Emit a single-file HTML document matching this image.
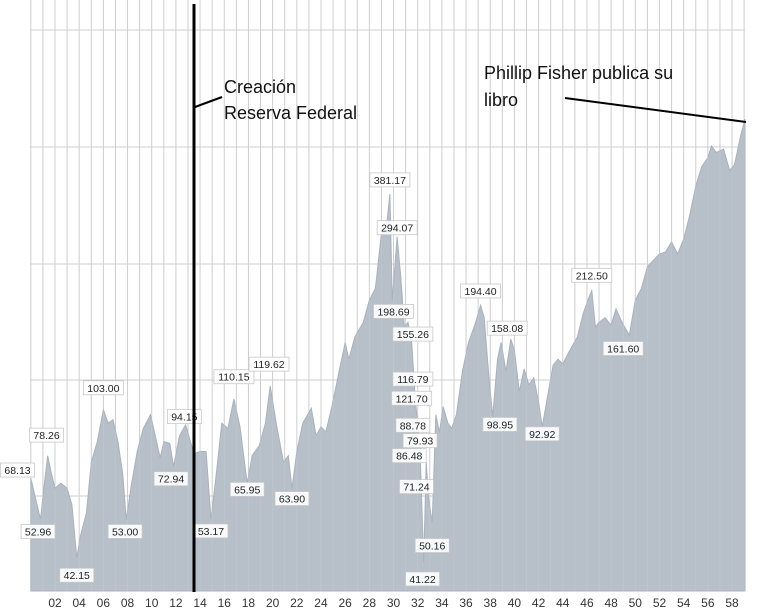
<!DOCTYPE html>
<html><head><meta charset="utf-8"><style>
body{margin:0;background:#fff;}
svg{display:block;font-family:"Liberation Sans",sans-serif;}
</style></head><body>
<svg id="chart" width="761" height="616" viewBox="0 0 761 616">
<g id="grid"></g>
<g id="area"></g>
<g id="xaxis"></g>
<g id="labels"></g>
<g>
<line x1="194" y1="4" x2="194" y2="592" stroke="#000" stroke-width="3"/>
<line x1="195" y1="107" x2="222" y2="97" stroke="#000" stroke-width="2"/>
<text x="224" y="93" font-size="18" fill="#111">Creación</text>
<text x="224" y="119" font-size="18" fill="#111">Reserva Federal</text>
<text x="484" y="79" font-size="18" fill="#111">Phillip Fisher publica su</text>
<text x="484" y="106" font-size="18" fill="#111">libro</text>
<line x1="565" y1="98" x2="746" y2="122" stroke="#000" stroke-width="2"/>
</g>
</svg>
<script>
const years=[1900.0,1900.4,1900.8,1901.1,1901.4,1901.7,1902.0,1902.5,1903.0,1903.4,1903.8,1904.1,1904.6,1905.0,1905.5,1906.0,1906.4,1906.8,1907.2,1907.6,1907.9,1908.3,1908.8,1909.3,1909.9,1910.3,1910.7,1911.0,1911.5,1911.8,1912.3,1912.8,1913.2,1913.5,1914.0,1914.5,1914.9,1915.3,1915.8,1916.3,1916.8,1917.3,1917.9,1918.3,1918.9,1919.4,1919.8,1920.3,1920.9,1921.3,1921.6,1922.0,1922.5,1923.2,1923.6,1924.0,1924.4,1924.9,1925.5,1926.0,1926.3,1926.8,1927.5,1928.0,1928.5,1929.0,1929.4,1929.7,1929.9,1930.3,1930.6,1930.9,1931.2,1931.5,1931.8,1932.2,1932.5,1932.7,1932.9,1933.2,1933.5,1933.8,1934.1,1934.5,1934.8,1935.2,1935.7,1936.2,1936.8,1937.2,1937.5,1937.9,1938.2,1938.6,1938.9,1939.3,1939.7,1940.0,1940.4,1940.8,1941.2,1941.6,1942.0,1942.3,1942.7,1943.2,1943.6,1944.0,1944.6,1945.2,1945.7,1946.2,1946.4,1946.7,1947.0,1947.5,1948.0,1948.4,1948.9,1949.5,1950.0,1950.5,1951.0,1951.5,1952.0,1952.5,1953.0,1953.5,1954.0,1954.5,1955.0,1955.5,1956.0,1956.3,1956.7,1957.3,1957.8,1958.2,1958.7,1959.1];
const values=[68,60,53,65,78,70,64,66,64,58,42,48,55,75,85,103,95,97,85,70,53,65,80,92,100,88,77,85,84,73,88,94,85,79,80,80,53,68,95,92,110,93,66,78,83,95,119,95,75,78,64,80,95,104,88,93,90,105,130,155,140,160,175,200,215,300,310,381,200,294,230,170,175,155,110,80,41,75,60,52,100,90,105,95,92,100,130,155,175,194,180,125,99,140,155,130,158,148,115,132,120,125,108,93,110,135,140,136,148,160,185,205,212,170,175,180,172,190,175,162,200,215,245,255,265,268,285,265,290,335,400,450,475,510,490,500,440,455,540,600];
const tickLabels=["02","04","06","08","10","12","14","16","18","20","22","24","26","28","30","32","34","36","38","40","42","44","46","48","50","52","54","56","58"];
const labelTexts=["68.13","52.96","78.26","42.15","103.00","53.00","72.94","94.15","53.17","110.15","65.95","119.62","63.90","381.17","294.07","198.69","155.26","116.79","121.70","88.78","79.93","86.48","71.24","50.16","41.22","194.40","98.95","158.08","92.92","212.50","161.60"];
const labelYears=[1898.9,1900.6,1901.3,1903.8,1906.0,1907.8,1911.6,1912.7,1914.9,1916.8,1917.9,1919.7,1921.6,1929.7,1930.3,1930.0,1931.6,1931.6,1931.5,1931.6,1932.2,1931.3,1931.9,1933.2,1932.4,1937.2,1938.8,1939.4,1942.3,1946.4,1949.0];
const labelValues=[68.13,52.96,78.26,42.15,103.00,53.00,72.94,94.15,53.17,110.15,65.95,119.62,63.90,381.17,294.07,198.69,155.26,116.79,121.70,88.78,79.93,86.48,71.24,50.16,41.22,194.40,98.95,158.08,92.92,212.50,161.60];
const labelDy=[-8,12,-20,18,-22,12,12,-8,12,-22,6,-21,10,-14,-9,10,-8,-10,16,-9,-11,17,16,17,18,-14,8,-11,7,-15,13];

const X0=30,X1=745,Y0=591;
function xs(y){return 55+(y-1902)*12.09;}
function ys(v){return 305-165*Math.log(v/194.4);}
const NS="http://www.w3.org/2000/svg";
function mk(t,a,p){const e=document.createElementNS(NS,t);for(const k in a)e.setAttribute(k,a[k]);p.appendChild(e);return e;}

const grid=document.getElementById('grid');
mk('rect',{x:X0,y:0,width:X1-X0,height:Y0,fill:'#fff'},grid);
for(let yr=1900;yr<=1959;yr++){
  const l=mk('line',{x1:xs(yr),x2:xs(yr),y1:0,y2:Y0,stroke:'#cfcfcf','stroke-width':1},grid);
  
  
}
[30,147,264,380,496].forEach(gy=>{
  const l=mk('line',{x1:X0,x2:X1,y1:gy,y2:gy,stroke:'#cfcfcf','stroke-width':1},grid);
  
  
});

let d='M'+xs(years[0])+','+Y0;
for(let i=0;i<years.length;i++){d+=' L'+Math.min(X1,xs(years[i])).toFixed(1)+','+ys(values[i]).toFixed(1);}
d+=' L'+Math.min(X1,xs(years[years.length-1])).toFixed(1)+','+Y0+' Z';
const area=mk('path',{d:d,fill:'#b7bfc9',stroke:'#a9b2bd','stroke-width':1},document.getElementById('area'));


for(let yr=1900;yr<=1959;yr++){
  const l=mk('line',{x1:xs(yr),x2:xs(yr),y1:0,y2:Y0,stroke:'#c9d0d7','stroke-width':0.6,opacity:0.5},document.getElementById('area'));
  
  
}

const xa=document.getElementById('xaxis');
tickLabels.forEach((t,i)=>{
  const yr=1902+i*2;
  const e=mk('text',{x:xs(yr),y:607,'text-anchor':'middle','font-size':12,fill:'#333'},xa);
  e.textContent=t;
  
  
});

const lg=document.getElementById('labels');
labelTexts.forEach((t,i)=>{
  const cx=xs(labelYears[i]), cy=ys(labelValues[i])+labelDy[i];
  const w=t.length*6+4;
  const g=mk('g',{},lg);
  
  
  mk('rect',{x:cx-w/2,y:cy-7,width:w,height:14,fill:'#fff','fill-opacity':0.9,stroke:'#c8c8c8','stroke-width':0.8},g);
  const e=mk('text',{x:cx,y:cy+4,'text-anchor':'middle','font-size':10.5,fill:'#222'},g);
  e.textContent=t;
});
</script>
</body></html>
